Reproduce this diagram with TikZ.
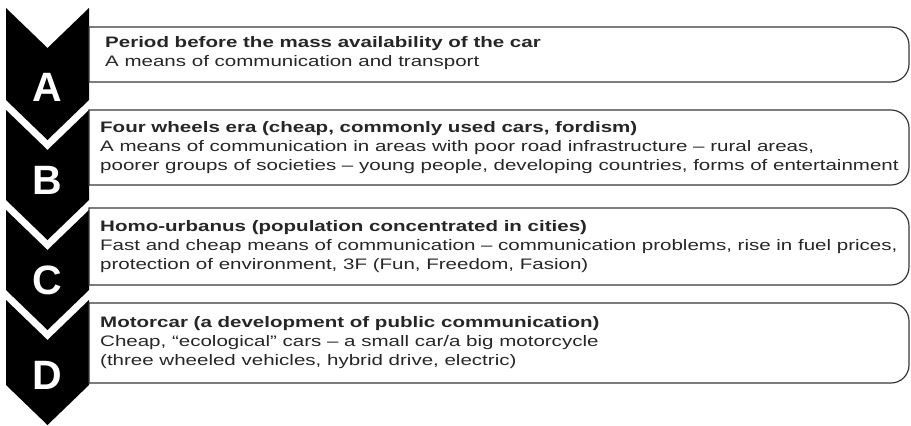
\documentclass[tikz,border=0pt]{standalone}
\usepackage{fontspec}
\setmainfont{Liberation Sans}
\newfontfamily\widesans[Ligatures=TeX, FakeStretch=1.35]{Liberation Sans}
\usetikzlibrary{positioning}
\definecolor{inkgray}{RGB}{38,38,38}
\definecolor{framegray}{RGB}{55,55,55}

\begin{document}
\begin{tikzpicture}[x=1pt, y=-1pt, node distance=4.7pt]
  \tikzset{letter/.style = {text=white, inner sep=0pt,
      font=\fontsize{41}{41}\selectfont\bfseries},
    heading/.style = {anchor=base west, inner sep=0pt, text=inkgray,
      font=\widesans\fontsize{15.2}{19}\selectfont\bfseries},
    detail/.style = {inner sep=0pt, text=inkgray, align=left,
      font=\widesans\fontsize{15.2}{19}\selectfont},
    frame/.style = {draw=framegray, line width=1.2pt}}
  \useasboundingbox (0,0) rectangle (911,426);
  % black arrow column
  \foreach \ya/\yb/\yl/\lt in {8/100/87/A, 110/200/180/B, 210/290/280/C, 300/385/375/D}{
    \fill (6,\ya) -- (47.5,\ya+40) -- (89,\ya) -- (89,\yb) -- (47.5,\yb+40) -- (6,\yb) -- cycle;
    \node[letter] (let\lt) at (47.5,\yl) {\lt};
  }
  % frames
  \foreach \ya/\yb in {27/82, 110/185, 208/285, 303/383}{
    \draw[frame] (89,\ya) -- (891,\ya) arc[start angle=-90, end angle=0, radius=18]
      -- (909,\yb-18) arc[start angle=0, end angle=90, radius=18] -- (89,\yb) -- cycle;
  }
  % texts
  \node[heading] (headA) at (105,47) {Period before the mass availability of the car};
  \node[detail, below right=4.7pt and 0pt of headA.south west] (textA)
    {A means of communication and transport};
  \node[heading] (headB) at (100,132) {Four wheels era (cheap, commonly used cars, fordism)};
  \node[detail, below right=4.7pt and 0pt of headB.south west] (textB)
    {A means of communication in areas with poor road infrastructure -- rural areas,\\
     poorer groups of societies -- young people, developing countries, forms of entertainment};
  \node[heading] (headC) at (100,231) {Homo-urbanus (population concentrated in cities)};
  \node[detail, below right=4.7pt and 0pt of headC.south west] (textC)
    {Fast and cheap means of communication -- communication problems, rise in fuel prices,\\
     protection of environment, 3F (Fun, Freedom, Fasion)};
  \node[heading] (headD) at (100,327) {Motorcar (a development of public communication)};
  \node[detail, below right=4.7pt and 0pt of headD.south west] (textD)
    {Cheap, “ecological” cars -- a small car/a big motorcycle\\
     (three wheeled vehicles, hybrid drive, electric)};
\end{tikzpicture}
\end{document}
